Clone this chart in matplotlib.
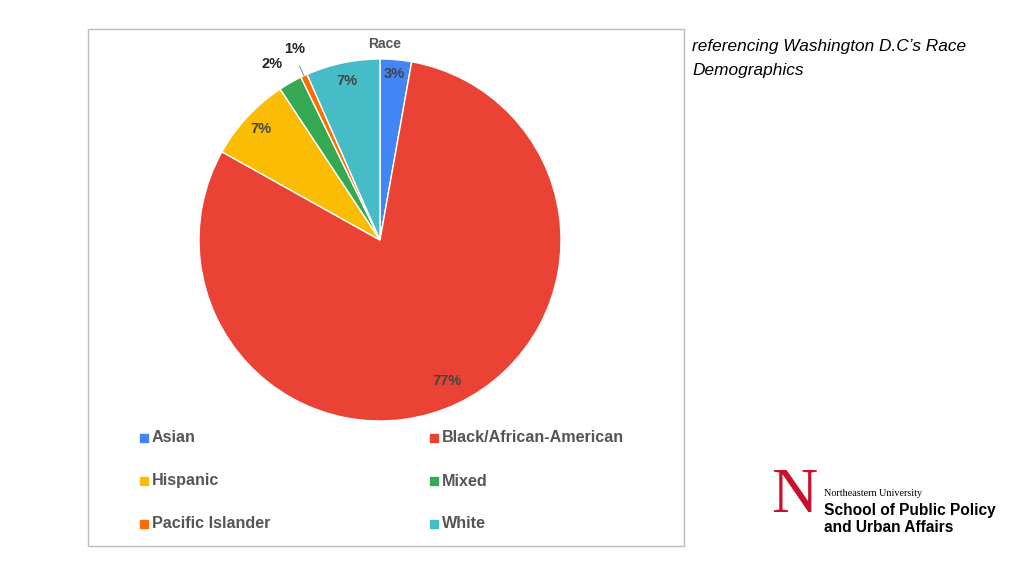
import numpy as np
import matplotlib.pyplot as plt
from matplotlib.patches import Rectangle

races = ["Asian", "Black/African-American", "Hispanic", "Mixed", "Pacific Islander", "White"]
shares = [2.8, 80.3, 7.6, 2.1, 0.6, 6.6]
pct_labels = ["3%", "77%", "7%", "2%", "1%", "7%"]
colors = ["#4285f4", "#ea4335", "#fbbc04", "#34a853", "#ff6d01", "#46bdc6"]

W, H = 1024, 576
fig = plt.figure(figsize=(W / 100, H / 100), dpi=100)
fig.patch.set_facecolor("white")
plt.rcParams["font.family"] = ["Liberation Sans", "DejaVu Sans"]

# chart frame
fig.patches.append(Rectangle((88 / W, 1 - 546 / H), (684 - 88) / W, (546 - 29) / H,
                             transform=fig.transFigure, fill=False, ec="#bbbbbb", lw=1))
fig.text(385 / W, 1 - 44 / H, "Race", ha="center", va="center", fontsize=10,
         fontweight="bold", color="#555555")

cx, cy, r = 380, 240, 181
ax = fig.add_axes([(cx - r) / W, (H - cy - r) / H, 2 * r / W, 2 * r / H])
wedges, _ = ax.pie(shares, colors=colors, startangle=90, counterclock=False,
                   wedgeprops=dict(edgecolor="white", linewidth=1))
ax.set_xlim(-1, 1)
ax.set_ylim(-1, 1)
ax.set_aspect("auto")

label_r = [0.92, 0.86, 0.9, 1.12, 1.12, 0.9]
for w, lab, lr in zip(wedges, pct_labels, label_r):
    mid = np.deg2rad((w.theta1 + w.theta2) / 2)
    x, y = lr * np.cos(mid), lr * np.sin(mid)
    if lab == "1%":
        ax.plot([1.0 * np.cos(mid), 1.06 * np.cos(mid)], [1.0 * np.sin(mid), 1.06 * np.sin(mid)],
                color="#999999", lw=0.8, clip_on=False)
        y += 0.04
    if lab == "2%":
        x -= 0.04
    col = "#222222" if lab in ("1%", "2%") else "#444444"
    ax.text(x, y, lab, ha="center", va="center", fontsize=10.5, fontweight="bold",
            color=col, clip_on=False)

# legend, two columns
leg_x = [140, 430]
leg_y = [438, 481, 524]
for i, (name, c) in enumerate(zip(races, colors)):
    x = leg_x[i % 2]
    y = leg_y[i // 2]
    fig.patches.append(Rectangle((x / W, 1 - (y + 4) / H), 8 / W, 8 / H,
                                 transform=fig.transFigure, color=c))
    fig.text((x + 12) / W, 1 - y / H, name, ha="left", va="center", fontsize=11.6,
             fontweight="bold", color="#555555")

fig.text(692 / W, 1 - 46 / H, "referencing Washington D.C\u2019s Race", fontsize=12.4,
         style="italic", va="center")
fig.text(692 / W, 1 - 70 / H, "Demographics", fontsize=12.4,
         style="italic", va="center")

# logo
fig.text(794 / W, 1 - 497 / H, "N", fontsize=46, family="Liberation Serif",
         color="#c8102e", ha="center", va="center")
fig.text(824 / W, 1 - 494 / H, "Northeastern University", fontsize=7.3,
         family="Liberation Serif", va="center")
fig.text(824 / W, 1 - 511 / H, "School of Public Policy", fontsize=11.2,
         fontweight="bold", va="center")
fig.text(824 / W, 1 - 527 / H, "and Urban Affairs", fontsize=11.2,
         fontweight="bold", va="center")

fig.savefig("out.png", dpi=100)
